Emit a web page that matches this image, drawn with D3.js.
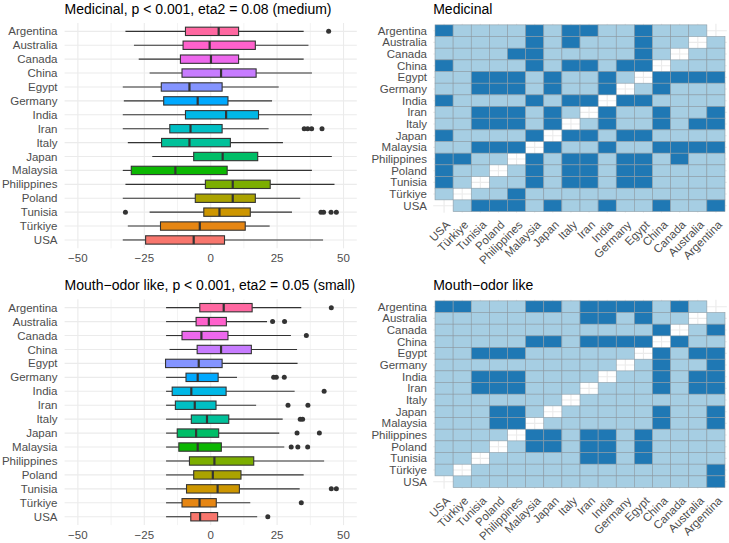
<!DOCTYPE html>
<html>
<head>
<meta charset="utf-8">
<script src="https://cdn.jsdelivr.net/npm/d3@7"></script>
<style>
  body { margin: 0; background: #fff; }
  svg { display: block; font-family: "Liberation Sans", Arial, sans-serif; }
</style>
</head>
<body>
<svg id="chart" width="729" height="543"></svg>
<script>
// countries top to bottom (factor levels reversed, USA is level 1)
const countries = ["Argentina", "Australia", "Canada", "China", "Egypt", "Germany", "India", "Iran",
  "Italy", "Japan", "Malaysia", "Philippines", "Poland", "Tunisia", "Türkiye", "USA"];
const levels = countries.slice().reverse();

// [lower whisker, q1, median, q3, upper whisker]
const medicinalStats = [
  [-32.1, -9.5, 3.0, 10.5, 35.0],
  [-28.9, -10.4, -0.4, 16.8, 36.8],
  [-27.1, -11.4, 0.1, 10.5, 35.0],
  [-23.0, -10.8, 3.9, 17.1, 38.1],
  [-33.1, -18.6, -8.0, 4.3, 25.6],
  [-32.7, -17.7, -4.9, 6.5, 23.1],
  [-33.1, -9.5, 5.8, 18.0, 38.1],
  [-33.1, -15.4, -7.6, 4.3, 21.8],
  [-31.2, -18.5, -8.0, 7.4, 27.2],
  [-22.0, -6.4, 4.5, 17.7, 45.6],
  [-33.1, -29.9, -13.3, 6.2, 38.1],
  [-32.1, -2.0, 8.3, 22.4, 46.6],
  [-33.1, -5.8, 8.3, 16.8, 33.7],
  [-23.0, -2.6, 3.3, 14.9, 30.6],
  [-31.2, -18.9, -4.1, 13.0, 22.2],
  [-33.1, -24.5, -6.4, 5.2, 42.3]
];
const medicinalOutliers = [
  [44.4], [], [], [], [], [], [], [35.2, 36.5, 38.0, 41.9],
  [], [], [], [], [], [-32.1, 41.5, 42.5, 45.3, 47.3], [], []
];

const mouthStats = [
  [-16.8, -4.1, 4.9, 15.6, 34.1],
  [-16.8, -5.5, -0.7, 5.9, 21.2],
  [-16.8, -10.8, -3.5, 6.5, 30.2],
  [-15.5, -5.1, 3.9, 15.3, 32.5],
  [-17.0, -17.0, -4.5, 4.3, 32.7],
  [-16.8, -9.3, -4.9, 2.8, 9.9],
  [-16.8, -14.5, -7.3, 5.8, 31.6],
  [-16.8, -13.3, -6.0, 2.0, 17.1],
  [-16.8, -7.3, -1.4, 6.8, 27.1],
  [-16.8, -12.6, -5.5, 3.0, 25.8],
  [-16.8, -12.0, -4.9, 4.0, 27.7],
  [-16.8, -8.0, 1.4, 16.2, 42.7],
  [-16.8, -6.4, 0.8, 11.4, 35.0],
  [-16.8, -9.1, 2.6, 10.8, 33.5],
  [-16.8, -10.8, -4.2, 2.1, 14.9],
  [-16.8, -7.5, -4.0, 2.6, 17.5]
];
const mouthOutliers = [
  [45.4], [23.3, 27.8], [36.0], [], [], [23.7, 24.7, 27.7], [42.7], [29.1, 36.6],
  [33.7, 34.6], [32.5, 40.9], [30.3, 32.8, 36.5], [], [], [45.4, 47.3], [34.1], [21.5]
];

// pairwise significance: rows = countries (top to bottom), columns = levels (left to right)
// 1 = significant (dark), 0 = not (light), - = diagonal (no tile)
const medicinalSig = [
  "100001011001000-", "00000101000100-0", "0000110000010-00", "100001011011-000",
  "00111010010-1111", "0011101001-01000", "100001011-110000", "00111010-1001001",
  "0011101-01001011", "100001-110110000", "00111-1001001111", "1100-10110110100",
  "100-010110110000", "10-0010110110000", "0-00100000000000", "-011101001001001"
];
const mouthSig = [
  "110001101111010-", "00000000110100-0", "0000000000001-01", "000001101111-100",
  "00111000000-1011", "0000000000-01001", "001110000-001011", "00111000-0001011",
  "0000000-00000000", "000110-000001001", "00011-0000001001", "0000-11011010000",
  "000-011011010000", "00-0000011010000", "0-00000000000001", "-000000000000001"
];

const xTicks = [-50, -25, 0, 25, 50];
const xMinor = [-37.5, -12.5, 12.5, 37.5];

// ggplot hue palette (polar LUV, l = 65, c = 100)
function hclHex(h, c = 100, l = 65) {
  const XN = 95.047, YN = 100, ZN = 108.883;
  const den = XN + 15 * YN + 3 * ZN;
  const un = 4 * XN / den, vn = 9 * YN / den;
  const rad = h * Math.PI / 180;
  const U = c * Math.cos(rad), V = c * Math.sin(rad);
  const Y = YN * Math.pow((l + 16) / 116, 3);
  const u = U / (13 * l) + un, v = V / (13 * l) + vn;
  const X = 9 * Y * u / (4 * v);
  const Z = -X / 3 - 5 * Y + 3 * Y / v;
  const lin = [
    3.240479 * X - 1.537150 * Y - 0.498535 * Z,
    -0.969256 * X + 1.875992 * Y + 0.041556 * Z,
    0.055648 * X - 0.204043 * Y + 1.057311 * Z
  ].map(t => t / YN);
  const g = lin.map(t => {
    const s = t <= 0.0031308 ? 12.92 * t : 1.055 * Math.pow(t, 1 / 2.4) - 0.055;
    return Math.round(Math.max(0, Math.min(1, s)) * 255);
  });
  return d3.rgb(g[0], g[1], g[2]).formatHex();
}
const fillColor = d3.scaleOrdinal()
  .domain(levels)
  .range(levels.map((d, i) => hclHex(15 + 360 / levels.length * i)));

const svg = d3.select("#chart");
const grid = "#EBEBEB";
const textCol = "#4D4D4D";
const minus = s => String(s).replace("-", "\u2212");

function drawBox(title, stats, outliers, top, bottom) {
  const g = svg.append("g");
  const x = d3.scaleLinear().domain([-55, 55]).range([64.6, 356.8]);
  const y = d3.scalePoint().domain(countries).range([top, bottom]).padding(0.6);
  const bw = y.step() * 0.6;

  g.selectAll(".minor").data(xMinor).join("line")
    .attr("x1", d => x(d)).attr("x2", d => x(d))
    .attr("y1", top).attr("y2", bottom)
    .attr("stroke", grid).attr("stroke-width", 0.6);
  g.selectAll(".major").data(xTicks).join("line")
    .attr("x1", d => x(d)).attr("x2", d => x(d))
    .attr("y1", top).attr("y2", bottom)
    .attr("stroke", grid).attr("stroke-width", 1.1);
  g.selectAll(".hgrid").data(countries).join("line")
    .attr("x1", x.range()[0]).attr("x2", x.range()[1])
    .attr("y1", d => y(d)).attr("y2", d => y(d))
    .attr("stroke", grid).attr("stroke-width", 1.1);

  const rows = countries.map((c, i) => ({ c, s: stats[i], o: outliers[i] }));
  const row = g.selectAll(".row").data(rows).join("g");
  row.append("line")
    .attr("x1", d => x(d.s[0])).attr("x2", d => x(d.s[1]))
    .attr("y1", d => y(d.c)).attr("y2", d => y(d.c))
    .attr("stroke", "#333").attr("stroke-width", 1.1);
  row.append("line")
    .attr("x1", d => x(d.s[3])).attr("x2", d => x(d.s[4]))
    .attr("y1", d => y(d.c)).attr("y2", d => y(d.c))
    .attr("stroke", "#333").attr("stroke-width", 1.1);
  row.append("rect")
    .attr("x", d => x(d.s[1])).attr("width", d => x(d.s[3]) - x(d.s[1]))
    .attr("y", d => y(d.c) - bw / 2).attr("height", bw)
    .attr("fill", d => fillColor(d.c))
    .attr("stroke", "#333").attr("stroke-width", 1.1);
  row.append("line")
    .attr("x1", d => x(d.s[2])).attr("x2", d => x(d.s[2]))
    .attr("y1", d => y(d.c) - bw / 2).attr("y2", d => y(d.c) + bw / 2)
    .attr("stroke", "#333").attr("stroke-width", 2.2);
  row.selectAll("circle").data(d => d.o.map(v => ({ c: d.c, v }))).join("circle")
    .attr("cx", d => x(d.v)).attr("cy", d => y(d.c)).attr("r", 2.5)
    .attr("fill", "#333");

  g.selectAll(".ylab").data(countries).join("text")
    .attr("x", 57.5).attr("y", d => y(d)).attr("dy", "0.35em")
    .attr("text-anchor", "end").attr("font-size", 11.5).attr("fill", textCol)
    .text(d => d);
  g.selectAll(".xlab").data(xTicks).join("text")
    .attr("x", d => x(d)).attr("y", bottom + 10).attr("dy", "0.35em")
    .attr("text-anchor", "middle").attr("font-size", 11.5).attr("fill", textCol)
    .text(d => minus(d));
  g.append("text")
    .attr("x", x.range()[0]).attr("y", top - 9.5)
    .attr("font-size", 14).attr("fill", "#000")
    .text(title);
}

function drawHeat(title, sig, top, bottom) {
  const g = svg.append("g");
  const x = d3.scaleBand().domain(levels).range([433.2, 726.8]).paddingOuter(0.1);
  const y = d3.scaleBand().domain(countries).range([top, bottom]).paddingOuter(0.1);
  const cx = d => x(d) + x.bandwidth() / 2;
  const cy = d => y(d) + y.bandwidth() / 2;

  g.selectAll(".vg").data(levels).join("line")
    .attr("x1", cx).attr("x2", cx).attr("y1", top).attr("y2", bottom)
    .attr("stroke", grid).attr("stroke-width", 1.1);
  g.selectAll(".hg").data(countries).join("line")
    .attr("x1", x.range()[0]).attr("x2", x.range()[1]).attr("y1", cy).attr("y2", cy)
    .attr("stroke", grid).attr("stroke-width", 1.1);

  const cells = [];
  countries.forEach((r, i) => levels.forEach((c, j) => {
    const v = sig[i][j];
    if (v !== "-") cells.push({ r, c, v });
  }));
  g.selectAll("rect").data(cells).join("rect")
    .attr("x", d => x(d.c)).attr("y", d => y(d.r))
    .attr("width", x.bandwidth()).attr("height", y.bandwidth())
    .attr("fill", d => d.v === "1" ? "#1F78B4" : "#A6CEE3")
    .attr("stroke", "#8C9BA5").attr("stroke-width", 0.6);

  g.selectAll(".ylab").data(countries).join("text")
    .attr("x", 427).attr("y", cy).attr("dy", "0.35em")
    .attr("text-anchor", "end").attr("font-size", 11.5).attr("fill", textCol)
    .text(d => d);
  g.selectAll(".xlab").data(levels).join("text")
    .attr("transform", d => `translate(${cx(d) + 1},${bottom + 7}) rotate(-45)`)
    .attr("dy", "0.72em")
    .attr("text-anchor", "end").attr("font-size", 11.5).attr("fill", textCol)
    .text(d => d);
  g.append("text")
    .attr("x", x.range()[0]).attr("y", 13.5 + (top - 23.7))
    .attr("font-size", 14).attr("fill", "#000")
    .text(title);
}

drawBox("Medicinal, p < 0.001, eta2 = 0.08 (medium)", medicinalStats, medicinalOutliers, 23, 248.3);
drawBox("Mouth\u2212odor like, p < 0.001, eta2 = 0.05 (small)", mouthStats, mouthOutliers, 299.3, 525.1);
drawHeat("Medicinal", medicinalSig, 23.7, 212.7);
drawHeat("Mouth\u2212odor like", mouthSig, 299.7, 488.7);
</script>
</body>
</html>
